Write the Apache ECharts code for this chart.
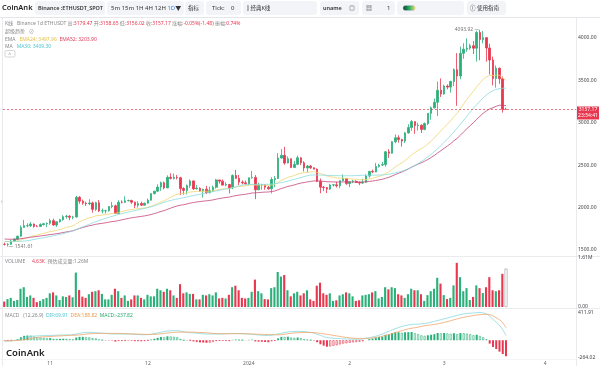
<!DOCTYPE html>
<html><head><meta charset="utf-8">
<script src="https://cdn.jsdelivr.net/npm/echarts@6/dist/echarts.min.js"></script>
<style>html,body{margin:0;padding:0;background:#fff}#c{width:600px;height:366px}</style>
</head><body><div id="c"></div>
<script>
// ---------------- DATA ----------------
const startDate = [2023, 10, 18];   // first candle (y, m, d)
const dayCount = 176;               // categories incl. empty space to Apr 10
const opens = [1566,1565,1567,1604,1628,1663,1765,1786,1787,1806,
1778,1777,1800,1810,1815,1846,1795,1833,1858,1893,
1899,1886,1889,2121,2076,2053,2045,2055,1979,2058,
1960,1962,1963,2013,2022,1930,2063,2062,2080,2084,
2063,2027,2048,2028,2052,2087,2165,2194,2242,2293,
2232,2358,2344,2357,2353,2225,2203,2260,2315,2220,
2228,2196,2217,2176,2201,2240,2326,2312,2265,2272,
2231,2378,2345,2300,2292,2282,2352,2356,2209,2268,
2269,2240,2222,2331,2344,2584,2617,2525,2576,2472,
2510,2587,2528,2467,2491,2469,2453,2311,2241,2236,
2218,2267,2268,2257,2317,2344,2283,2304,2309,2297,
2289,2298,2372,2426,2420,2486,2501,2507,2658,2642,
2777,2824,2803,2785,2881,2944,3014,2967,2971,2922,
2991,3112,3177,3242,3384,3340,3433,3421,3487,3627,
3552,3820,3868,3881,3909,3880,4066,3982,4004,3883,
3741,3523,3644,3519,3158.65];
const closes = [1565,1567,1604,1628,1663,1765,1786,1787,1806,1778,
1777,1800,1810,1815,1846,1795,1833,1858,1893,1899,
1886,1889,2121,2076,2053,2045,2055,1979,2058,1960,
1962,1963,2013,2022,1930,2063,2062,2080,2084,2063,
2027,2048,2028,2052,2087,2165,2194,2242,2293,2232,
2358,2344,2357,2353,2225,2203,2260,2315,2220,2228,
2196,2217,2176,2201,2240,2326,2312,2265,2272,2231,
2378,2345,2300,2292,2282,2352,2356,2209,2268,2269,
2240,2222,2331,2344,2584,2617,2525,2576,2472,2510,
2587,2528,2467,2491,2469,2453,2311,2241,2236,2218,
2267,2268,2257,2317,2344,2283,2304,2309,2297,2289,
2298,2372,2426,2420,2486,2501,2507,2658,2642,2777,
2824,2803,2785,2881,2944,3014,2967,2971,2922,2991,
3112,3177,3242,3384,3340,3433,3421,3487,3627,3552,
3820,3868,3881,3909,3880,4066,3982,4004,3883,3741,
3523,3644,3519,3158.65,3157.17];
const highs = [1587,1580,1620,1640,1668,1790,1855,1815,1830,1812,
1795,1815,1820,1825,1868,1870,1835,1868,1910,1915,
1910,1903,2137,2136,2095,2070,2098,2070,2068,2089,
1989,1975,2017,2067,2034,2087,2085,2133,2093,2093,
2072,2075,2070,2058,2107,2170,2196,2275,2307,2308,
2381,2404,2401,2385,2363,2240,2272,2331,2318,2264,
2240,2222,2256,2248,2260,2338,2328,2332,2301,2279,
2392,2445,2385,2322,2319,2352,2432,2384,2294,2280,
2270,2257,2359,2372,2643,2690,2717,2603,2580,2551,
2613,2595,2548,2502,2500,2476,2463,2343,2256,2243,
2281,2276,2305,2322,2392,2349,2308,2327,2323,2306,
2340,2392,2434,2448,2527,2516,2539,2667,2688,2783,
2863,2853,2811,2891,2983,3034,3019,3000,2982,3004,
3115,3193,3287,3487,3523,3450,3453,3496,3642,3822,
3900,3939,3996,3932,3964,4086,4093.92,4083,4010,3933,
3781,3677,3651,3546,3179.47];
const lows = [1553,1541.61,1562,1597,1615,1658,1761,1768,1770,1765,
1770,1773,1788,1770,1797,1785,1773,1823,1845,1870,
1851,1862,1883,2045,2033,2020,2027,1940,1960,1947,
1932,1930,1952,1992,1923,1928,2050,2057,2074,2042,
1995,2000,2021,2025,2047,2086,2154,2182,2197,2216,
2230,2332,2331,2332,2147,2153,2155,2232,2210,2216,
2187,2118,2160,2167,2184,2224,2283,2262,2252,2167,
2217,2337,2265,2275,2265,2265,2341,2100,2207,2210,
2210,2209,2167,2241,2337,2576,2506,2522,2469,2472,
2500,2501,2426,2416,2455,2451,2300,2168,2195,2172,
2207,2248,2237,2228,2314,2268,2240,2289,2290,2265,
2280,2292,2354,2406,2417,2472,2490,2482,2585,2636,
2760,2765,2719,2761,2874,2906,2870,2910,2880,2912,
2973,3037,3168,3080,3305,3331,3395,3356,3433,3200,
3515,3755,3838,3860,3810,3722,3738,3936,3720,3570,
3441,3414,3460,3120,3156.02];
// volume in thousands
const volumesK = [180,260,300,200,230,600,650,330,380,300,
160,200,260,300,450,480,380,230,350,330,
380,320,1130,560,340,300,420,500,520,550,
430,250,250,400,600,520,300,380,200,250,
380,380,300,250,400,350,350,600,550,500,
600,550,380,300,750,450,480,430,430,250,
250,400,380,420,380,480,280,300,280,400,
650,700,550,300,280,300,500,900,520,450,
260,250,620,650,1150,1000,1050,550,350,450,
500,380,450,550,250,200,700,800,450,400,
450,200,220,380,420,480,450,350,200,220,
380,400,420,480,520,280,330,650,580,650,
620,420,380,300,420,600,550,550,420,200,
390,520,600,960,770,390,260,300,710,1450,
980,520,620,230,330,710,620,460,650,980,
550,520,550,1090,4.63];
const volEstimateK = 1260;
const ema24 = [1602,1599,1599,1602,1607,1619,1633,1645,1658,1668,
1677,1687,1696,1706,1717,1723,1732,1742,1754,1766,
1775,1784,1811,1833,1850,1866,1881,1889,1903,1907,
1912,1916,1924,1932,1932,1942,1952,1962,1972,1979,
1983,1988,1991,1996,2003,2016,2031,2048,2067,2081,
2103,2122,2141,2158,2163,2166,2174,2185,2188,2191,
2192,2194,2192,2193,2197,2207,2215,2219,2224,2224,
2237,2245,2250,2253,2256,2263,2271,2266,2266,2266,
2264,2261,2266,2273,2298,2323,2339,2358,2367,2379,
2395,2406,2411,2417,2421,2424,2415,2401,2388,2374,
2365,2357,2349,2347,2347,2342,2339,2336,2333,2329,
2327,2330,2338,2345,2356,2368,2379,2401,2421,2449,
2479,2505,2527,2556,2587,2621,2649,2675,2695,2718,
2750,2784,2821,2866,2904,2946,2984,3024,3073,3111,
3168,3224,3277,3327,3371,3427,3471,3514,3543,3559,
3556,3563,3560,3528,3497.96];
const ema52 = [1629.5,1627.2,1626.3,1626.4,1627.8,1633.0,1638.7,1644.3,1650.4,1655.2,
1659.8,1665.1,1670.6,1676.0,1682.4,1686.7,1692.2,1698.5,1705.8,1713.1,
1719.6,1726.0,1740.9,1753.5,1764.8,1775.4,1785.9,1793.2,1803.2,1809.1,
1814.9,1820.5,1827.8,1835.1,1838.7,1847.2,1855.3,1863.8,1872.1,1879.3,
1884.9,1891.0,1896.2,1902.1,1909.1,1918.7,1929.1,1940.9,1954.2,1964.7,
1979.5,1993.3,2007.0,2020.1,2027.8,2034.4,2042.9,2053.2,2059.5,2065.8,
2070.7,2076.2,2080.0,2084.6,2090.5,2099.4,2107.4,2113.3,2119.3,2123.5,
2133.1,2141.1,2147.1,2152.6,2157.5,2164.8,2172.0,2173.4,2177.0,2180.5,
2182.7,2184.2,2189.7,2195.5,2210.2,2225.5,2236.8,2249.6,2258.0,2267.5,
2279.6,2289.0,2295.7,2303.0,2309.3,2314.7,2314.6,2311.8,2309.0,2305.5,
2304.1,2302.7,2301.0,2301.6,2303.2,2302.4,2302.5,2302.7,2302.5,2302.0,
2301.9,2304.5,2309.1,2313.3,2319.8,2326.6,2333.4,2345.7,2356.9,2372.7,
2389.7,2405.3,2419.6,2437.0,2456.2,2477.2,2495.7,2513.6,2529.0,2546.5,
2567.8,2590.8,2615.4,2644.4,2670.6,2699.4,2726.6,2755.3,2788.2,2817.0,
2854.9,2893.1,2930.4,2967.3,3001.7,3041.9,3077.4,3112.4,3141.5,3164.1,
3177.6,3195.2,3207.4,3205.5,3203.90];
// [candle index, value]
const ma30Pts = [[0,1599],[5,1602],[10,1631],[15,1668],[20,1714],[25,1788],[29,1847],[35,1919],
[40,1965],[45,2009],[50,2074],[55,2117],[60,2157],[65,2196],[70,2234],[75,2274],[80,2274],
[85,2295],[90,2343],[95,2385],[100,2379],[105,2375],[110,2381],[115,2384],[120,2409],
[125,2476],[130,2599],[135,2769],[140,2983],[145,3215],[150,3380],[154,3409.30]];
const difPts = [[0,-14],[4,4],[7,50],[10,64],[14,72],[18,78],[21,80],[23,104],[26,116],[30,104],
[34,92],[38,92],[42,82],[44,84],[47,108],[50,136],[53,142],[56,118],[60,100],[62,92],[66,92],
[70,100],[74,95],[77,82],[81,70],[84,94],[87,122],[90,132],[94,116],[97,72],[99,40],[102,26],
[105,18],[109,15],[111,28],[114,60],[117,112],[120,172],[124,228],[127,240],[129,248],[132,280],
[135,318],[138,356],[141,392],[144,404],[146,411.91],[147,405],[148,392],[149,355],[150,310],
[151,270],[152,220],[153,155],[154,69.91]];
const deaPts = [[0,-10],[4,-3.5],[7,15],[10,41.5],[14,56],[18,67],[21,74],[23,79],[26,95],[30,102],
[34,102],[38,95],[42,90],[44,86],[47,90],[50,107],[53,119],[56,120],[60,116],[62,111],[66,96],
[70,97],[74,96],[77,91],[81,85],[84,80],[87,96],[90,112],[94,115],[97,102],[99,88],[102,64],
[105,41],[109,26],[111,28],[114,41],[117,72],[120,113],[124,168],[127,194],[129,215],[132,235],
[135,264],[138,304],[141,340],[144,367],[146,380],[147,383],[148,385],[149,380],[150,360],
[151,335],[152,305],[153,257],[154,188.82]];
const macdHist = [-8,-6,-3,2,15,45,65,70,68,55,
45,40,35,30,32,22,20,20,22,20,
16,12,40,50,50,46,42,30,28,12,
4,-4,-4,-6,-20,-12,-10,-6,-6,-8,
-14,-14,-16,-12,-4,10,22,36,48,44,
58,56,52,46,20,2,-4,-2,-18,-24,
-32,-34,-38,-36,-28,-12,-8,-10,-10,-14,
6,10,6,2,-2,6,8,-18,-20,-22,
-26,-30,-16,-8,28,50,48,52,40,36,
40,30,16,10,2,-6,-30,-60,-80,-96,
-92,-84,-76,-62,-50,-46,-38,-32,-28,-22,
-16,0,16,24,38,48,54,80,86,106,
118,118,112,118,120,122,106,92,72,66,
74,82,90,108,104,108,100,96,104,90,
106,104,98,90,74,82,64,44,14,-50,
-100,-130,-170,-205,-237.82];
const macdRange = [-264.02, 411.91];
const volMaxK = 1610;
const countdown = '23:54:41';

// ---------------- BUILD ----------------
const categories = [];
(function(){ const t0 = Date.UTC(startDate[0], startDate[1]-1, startDate[2]);
  for (let i=0;i<dayCount;i++) categories.push(new Date(t0 + i*86400000).toISOString().slice(0,10)); })();
const N = closes.length;
const UP = '#2bb07a', DOWN = '#e8374f';
const F = '"Noto Sans","Noto Sans CJK SC",sans-serif';
const candle = [];
for (let i=0;i<N;i++) candle.push([opens[i], closes[i], lows[i], highs[i]]);
const volData = volumesK.map((v,i)=>({value:v, itemStyle:{color: closes[i]>=opens[i]?UP:DOWN}}));
const volEst = volumesK.map((v,i)=> i===N-1 ? volEstimateK : '-');
const histData = macdHist.map((v,i)=>{
  const prev = i>0 ? macdHist[i-1] : v;
  const c = v>=0 ? UP : DOWN;
  const filled = v>=0 ? v>=prev : v<=prev;
  return {value:v, itemStyle: filled ? {color:c} : {color:'#fff', borderColor:c, borderWidth:0.6}};
});
const pts = a => a.map(p=>[categories[p[0]], p[1]]);
let iMax = 0, iMin = 0;
for (let i=0;i<N;i++){ if (highs[i]>highs[iMax]) iMax=i; if (lows[i]<lows[iMin]) iMin=i; }
const last = N-1;
const chg = closes[last]-closes[last-1];
const chgPct = chg/closes[last-1]*100;
const amp = (highs[last]-lows[last])/closes[last-1]*100;

function xAx(g, show){ return {type:'category', gridIndex:g, data:categories, boundaryGap:true,
  axisLine:{show:false}, axisTick:{show:false}, splitLine:{show:false},
  axisLabel:{show:show, interval:(i,v)=>v.slice(8)==='01', margin:3, fontSize:5, color:'#666', fontFamily:F,
    formatter:v=>{ const m=+v.slice(5,7); return m===1 ? v.slice(0,4) : String(m); }}}; }
const yLab = {fontSize:5, color:'#444', margin:2, fontFamily:F};

function txt(x,y,text,rich,extra){ return Object.assign({type:'text', x:x, y:y, silent:true,
  style:{text:text, rich:rich||{}, fontSize:5, fontFamily:F, fill:'#777', verticalAlign:'middle'}}, extra||{}); }
function btn(x,w){ return {type:'rect', shape:{x:x,y:1,width:w,height:14,r:3}, style:{fill:'#f2f4f7'}, silent:true}; }
const R = {g:{fill:'#888',fontSize:5,fontFamily:F}, r:{fill:DOWN,fontSize:5,fontFamily:F},
  y:{fill:'#e3c24a',fontSize:5,fontFamily:F}, p:{fill:'#e0405e',fontSize:5,fontFamily:F},
  c:{fill:'#4fc6cf',fontSize:5,fontFamily:F}, o:{fill:'#ee9a4c',fontSize:5,fontFamily:F},
  gr:{fill:'#26a96c',fontSize:5,fontFamily:F}};
const T = {fontSize:6, fontFamily:F, fill:'#333', verticalAlign:'middle'};
const graphics = [
  {type:'text', x:2, y:8, style:{text:'CoinAnk', fontSize:7.5, fontWeight:600, fontFamily:F, fill:'#222', verticalAlign:'middle'}},
  btn(35,70), {type:'text', x:38, y:8, style:Object.assign({text:'Binance :ETHUSDT_SPOT', fontSize:5.5, fontWeight:600}, {fontFamily:F, fill:'#333', verticalAlign:'middle'})},
  btn(107,77), {type:'text', x:111, y:8, style:Object.assign({}, T, {text:'5m 15m 1H 4H 12H {b|1D}▼', fontSize:6, rich:{b:{fill:'#3b7de9',fontSize:6,fontFamily:F}}})},
  btn(185,19), {type:'text', x:188, y:8, style:Object.assign({}, T, {text:'指标', fontSize:5.5})},
  btn(206,35), {type:'text', x:212, y:8, style:Object.assign({}, T, {text:'Tick:', fontSize:6})}, {type:'text', x:231, y:8, style:Object.assign({}, T, {text:'0', fontSize:6})},
  btn(243,74), {type:'text', x:247, y:8, style:Object.assign({}, T, {text:'⫿ 经典K线', fontSize:5.5})},
  btn(320,39), {type:'text', x:323, y:8, style:Object.assign({}, T, {text:'uname', fontSize:5.5, fontWeight:600})}, {type:'text', x:349, y:8, style:Object.assign({}, T, {text:'◎', fontSize:6, fill:'#555'})},
  btn(362,33), {type:'text', x:366, y:8, style:Object.assign({}, T, {text:'▦', fontSize:6, fill:'#555'})}, {type:'text', x:387, y:8, style:Object.assign({}, T, {text:'1', fontSize:6})},
  btn(397,67), {type:'rect', shape:{x:403,y:5.5,width:12,height:5,r:2.5}, style:{fill:new echarts.graphic.LinearGradient(0,0,1,0,[{offset:0,color:'#0b3b2e'},{offset:0.5,color:'#22a86a'},{offset:1,color:'#e8e05a'}]), stroke:'#bbb', lineWidth:0.4}},
  btn(467,39), {type:'text', x:470, y:8, style:Object.assign({}, T, {text:'ⓘ 使用指南', fontSize:5.5})},
  {type:'line', shape:{x1:0,y1:17.5,x2:600,y2:17.5}, style:{stroke:'#e4e6ea', lineWidth:1}},
  {type:'line', shape:{x1:2.5,y1:18,x2:2.5,y2:366}, style:{stroke:'#e4e6ea', lineWidth:0.8}},
  {type:'line', shape:{x1:576.5,y1:18,x2:576.5,y2:366}, style:{stroke:'#e4e6ea', lineWidth:0.8}},
  {type:'line', shape:{x1:0,y1:256.5,x2:600,y2:256.5}, style:{stroke:'#e4e6ea', lineWidth:0.8}},
  {type:'line', shape:{x1:0,y1:308.5,x2:600,y2:308.5}, style:{stroke:'#e4e6ea', lineWidth:0.8}},
  {type:'line', shape:{x1:0,y1:359.5,x2:576,y2:359.5}, style:{stroke:'#eceef1', lineWidth:0.6}},
  txt(5,24,'{g|K线}   {g|Binance 1d ETHUSDT} {g|高:}{r|'+highs[last].toFixed(2)+'} {g|开:}{r|'+opens[last].toFixed(2)+'} {g|低:}{r|'+lows[last].toFixed(2)+'} {g|收:}{r|'+closes[last].toFixed(2)+'} {g|涨幅:}{r|'+chgPct.toFixed(2)+'%('+chg.toFixed(2)+')} {g|振幅:}{r|'+amp.toFixed(2)+'%}', R),
  txt(5,32,'{g|超级趋势}   {g|⊘}', R),
  txt(5,39.5,'{g|EMA}   {y|EMA24: '+ema24[last].toFixed(2)+'}  {p|EMA52: '+ema52[last].toFixed(2)+'}', R),
  txt(5,46.5,'{g|MA}   {c|MA30: '+ma30Pts[ma30Pts.length-1][1].toFixed(2)+'}', R),
  {type:'rect', shape:{x:5,y:50.5,width:10,height:6.5,r:1.5}, style:{fill:'#fff', stroke:'#bbb', lineWidth:0.6}},
  txt(8.3,54.3,'{g|^}', R),
  txt(1,202,'{g|‹}', R),
  txt(5,262,'{g|VOLUME}     {r|'+volumesK[last].toFixed(2)+'K}  {g|预估成交量:'+(volEstimateK/1000).toFixed(2)+'M}', R),
  txt(5,315.5,'{g|MACD}   {g|(12,26,9)}  {c|DIF:'+difPts[difPts.length-1][1].toFixed(2)+'}  {o|DEA:'+deaPts[deaPts.length-1][1].toFixed(2)+'}  {gr|MACD:'+macdHist[last].toFixed(2)+'}', R),
  {type:'text', x:6, y:353.5, style:{text:'CoinAnk', fontSize:9.5, fontWeight:600, fontFamily:F, fill:'#222', verticalAlign:'middle'}}
];

const option = {
  animation:false,
  backgroundColor:'#fff',
  grid:[{left:3, right:24, top:17, height:239},
        {left:3, right:24, top:258, height:49},
        {left:3, right:24, top:312.5, height:46}],
  xAxis:[xAx(0,false), xAx(1,false), xAx(2,true)],
  yAxis:[
    {type:'value', gridIndex:0, position:'right', min:1429, max:4248, splitNumber:5,
     axisLine:{show:false}, axisTick:{show:false}, splitLine:{show:false},
     axisLabel:Object.assign({showMinLabel:false, showMaxLabel:false, formatter:v=>v.toFixed(2)}, yLab)},
    {type:'value', gridIndex:1, position:'right', min:0, max:volMaxK, interval:volMaxK,
     axisLine:{show:false}, axisTick:{show:false}, splitLine:{show:false},
     axisLabel:Object.assign({formatter:v=> v===0 ? '0.00' : (v/1000).toFixed(2)+'M'}, yLab)},
    {type:'value', gridIndex:2, position:'right', min:macdRange[0], max:macdRange[1],
     axisLine:{show:false}, axisTick:{show:false}, splitLine:{show:false},
     axisLabel:Object.assign({showMinLabel:true, showMaxLabel:true,
       formatter:v=> (Math.abs(v-macdRange[0])<0.01 || Math.abs(v-macdRange[1])<0.01) ? v.toFixed(2) : ''}, yLab)}
  ],
  graphic:graphics,
  series:[
    {type:'candlestick', xAxisIndex:0, yAxisIndex:0, data:candle, barWidth:'62%',
     itemStyle:{color:UP, color0:DOWN, borderColor:UP, borderColor0:DOWN, borderWidth:0.8},
     markLine:{silent:true, symbol:['none','none'], data:[{yAxis:closes[last]}],
       lineStyle:{color:DOWN, type:[2,2], width:0.7},
       label:{position:'end', distance:1, formatter:'{s| }\n{a|'+closes[last].toFixed(2)+'}\n{b|'+countdown+'}',
         rich:{s:{height:7, fontSize:5, lineHeight:7},
               a:{backgroundColor:DOWN, color:'#fff', fontSize:5, fontFamily:F, width:18, height:6, lineHeight:6, padding:[0.5,2,0.5,2], align:'center'},
               b:{backgroundColor:DOWN, color:'#fff', fontSize:5, fontFamily:F, width:18, height:6, lineHeight:6, padding:[0.5,2,0.5,2], align:'center'}}}},
     markPoint:{symbol:'circle', symbolSize:1, itemStyle:{color:'rgba(0,0,0,0)'},
       label:{fontSize:5, color:'#777', fontFamily:F},
       data:[{coord:[categories[iMax], highs[iMax]], label:{position:'left', distance:0, formatter:highs[iMax].toFixed(2)+' —'}},
             {coord:[categories[iMin], lows[iMin]], label:{position:'right', distance:0, formatter:'— '+lows[iMin].toFixed(2)}}]}},
    {type:'line', xAxisIndex:0, yAxisIndex:0, data:ema24, symbol:'none', lineStyle:{color:'#efd56e', width:0.8}, z:3},
    {type:'line', xAxisIndex:0, yAxisIndex:0, data:ema52, symbol:'none', lineStyle:{color:'#c5457a', width:0.8}, z:3},
    {type:'line', xAxisIndex:0, yAxisIndex:0, data:pts(ma30Pts), symbol:'none', smooth:0.4, lineStyle:{color:'#8adadf', width:0.8}, z:3},
    {type:'bar', xAxisIndex:1, yAxisIndex:1, data:volData, barWidth:'65%', barGap:'-100%'},
    {type:'bar', xAxisIndex:1, yAxisIndex:1, data:volEst, barWidth:'90%', barGap:'-100%',
     itemStyle:{color:'#fff', borderColor:'#999', borderWidth:0.6}},
    {type:'bar', xAxisIndex:2, yAxisIndex:2, data:histData, barWidth:'62%'},
    {type:'line', xAxisIndex:2, yAxisIndex:2, data:pts(difPts), symbol:'none', smooth:0.4, lineStyle:{color:'#86d8de', width:0.8}},
    {type:'line', xAxisIndex:2, yAxisIndex:2, data:pts(deaPts), symbol:'none', smooth:0.4, lineStyle:{color:'#f0a56a', width:0.8}}
  ]
};
const chart = echarts.init(document.getElementById('c'), null, {renderer:'canvas'});
chart.setOption(option);
</script></body></html>
